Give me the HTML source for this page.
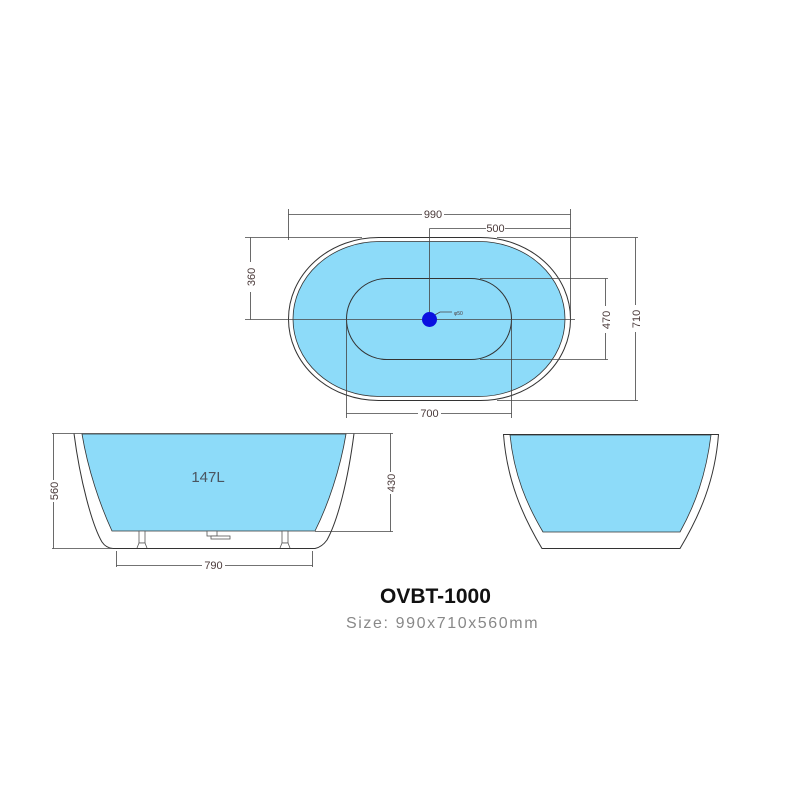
<!DOCTYPE html>
<html><head><meta charset="utf-8"><style>
html,body{margin:0;padding:0;background:#fff;}
svg{display:block;}
</style></head><body>
<svg width="800" height="800" viewBox="0 0 800 800" xmlns="http://www.w3.org/2000/svg" font-family="Liberation Sans, sans-serif">
<rect width="800" height="800" fill="#fff"/>
<rect x="288.5" y="237.5" width="282" height="163" rx="90" ry="81.5" fill="#fff" stroke="#333" stroke-width="1"/>
<rect x="293" y="241.5" width="272" height="155" rx="86" ry="77.5" fill="#8ddbf9" stroke="#333" stroke-width="0.8"/>
<rect x="346.5" y="278.5" width="165" height="81" rx="40.5" ry="40.5" fill="none" stroke="#333" stroke-width="1"/>
<g stroke="#444" stroke-width="0.8" fill="none">
<line x1="288.5" y1="209" x2="288.5" y2="240"/>
<line x1="570.5" y1="209" x2="570.5" y2="320"/>
<line x1="288.5" y1="214.5" x2="422" y2="214.5"/>
<line x1="444" y1="214.5" x2="570.5" y2="214.5"/>
<line x1="429.5" y1="228.5" x2="486" y2="228.5"/>
<line x1="505" y1="228.5" x2="570.5" y2="228.5"/>
<line x1="429.5" y1="228.5" x2="429.5" y2="319"/>
<line x1="245" y1="237.5" x2="362" y2="237.5"/>
<line x1="250.5" y1="237.5" x2="250.5" y2="262"/>
<line x1="250.5" y1="292" x2="250.5" y2="319.5"/>
<line x1="245" y1="319.5" x2="575" y2="319.5"/>
<line x1="497" y1="237.5" x2="638" y2="237.5"/>
<line x1="497" y1="400.5" x2="638" y2="400.5"/>
<line x1="635.5" y1="237.5" x2="635.5" y2="305"/>
<line x1="635.5" y1="332" x2="635.5" y2="400.5"/>
<line x1="480" y1="278.5" x2="608" y2="278.5"/>
<line x1="480" y1="359.5" x2="608" y2="359.5"/>
<line x1="605.5" y1="278.5" x2="605.5" y2="306"/>
<line x1="605.5" y1="333" x2="605.5" y2="359.5"/>
<line x1="346.5" y1="319" x2="346.5" y2="418"/>
<line x1="511.5" y1="319" x2="511.5" y2="418"/>
<line x1="346.5" y1="413.5" x2="418" y2="413.5"/>
<line x1="441" y1="413.5" x2="511.5" y2="413.5"/>
<polyline points="433,316 440,312 452,312"/>
</g>
<circle cx="429.5" cy="319.5" r="7.5" fill="#0a10e0"/>
<g fill="#4a3a3a" font-size="11">
<text x="433" y="218" text-anchor="middle">990</text>
<text x="495.5" y="232" text-anchor="middle">500</text>
<text x="429.5" y="417" text-anchor="middle">700</text>
<text x="454" y="315" font-size="5">φ50</text>
<text transform="translate(255,277) rotate(-90)" text-anchor="middle">360</text>
<text transform="translate(640,319) rotate(-90)" text-anchor="middle">710</text>
<text transform="translate(610,320) rotate(-90)" text-anchor="middle">470</text>
</g>
<path d="M74,433.5 C80,480 92,525 102,542 Q106,548 113,548.5 L315,548.5 Q322,547 327,540 C338,520 348,480 354,433.5" fill="#fff" stroke="#333" stroke-width="1"/>
<path d="M82,434 L346,434 C340,470 328,505 315,531 L112,531 C100,505 88,470 82,434 Z" fill="#8ddbf9" stroke="#333" stroke-width="0.8"/>
<g stroke="#555" stroke-width="0.8" fill="#fff">
<rect x="139" y="531" width="6" height="12"/>
<path d="M137,548 L139,543 L145,543 L147,548"/>
<rect x="282" y="531" width="6" height="12"/>
<path d="M280,548 L282,543 L288,543 L290,548"/>
<rect x="207" y="531" width="10" height="5"/>
<rect x="211" y="536" width="19" height="3"/>
</g>
<g stroke="#444" stroke-width="0.8" fill="none">
<line x1="52" y1="433.5" x2="393" y2="433.5"/>
<line x1="52" y1="548.5" x2="112" y2="548.5"/>
<line x1="53.5" y1="433.5" x2="53.5" y2="480"/>
<line x1="53.5" y1="502" x2="53.5" y2="548.5"/>
<line x1="315" y1="531.5" x2="393" y2="531.5"/>
<line x1="390.5" y1="433.5" x2="390.5" y2="472"/>
<line x1="390.5" y1="494" x2="390.5" y2="531.5"/>
<line x1="116.5" y1="551" x2="116.5" y2="567"/>
<line x1="312.5" y1="551" x2="312.5" y2="567"/>
<line x1="116.5" y1="565.5" x2="202" y2="565.5"/>
<line x1="225" y1="565.5" x2="312.5" y2="565.5"/>
</g>
<g fill="#4a3a3a" font-size="11">
<text x="213.5" y="569" text-anchor="middle">790</text>
<text transform="translate(58,491) rotate(-90)" text-anchor="middle">560</text>
<text transform="translate(395,483) rotate(-90)" text-anchor="middle">430</text>
</g>
<text x="208" y="482" font-size="15" fill="#4a5560" text-anchor="middle">147L</text>
<path d="M503.5,434.5 L718.5,434.5 C715,480 700,515 680,548.5 L542,548.5 C522,515 507,480 503.5,434.5 Z" fill="#fff" stroke="#333" stroke-width="1"/>
<path d="M510,435 L711,435 C706,475 695,505 680,532 L543,532 C527,505 514,475 510,435 Z" fill="#8ddbf9" stroke="#333" stroke-width="0.8"/>
<text x="380" y="603" font-size="21" font-weight="bold" fill="#111">OVBT-1000</text>
<text x="346" y="628" font-size="16" fill="#888" letter-spacing="1.6">Size: 990x710x560mm</text>
</svg>
</body></html>
